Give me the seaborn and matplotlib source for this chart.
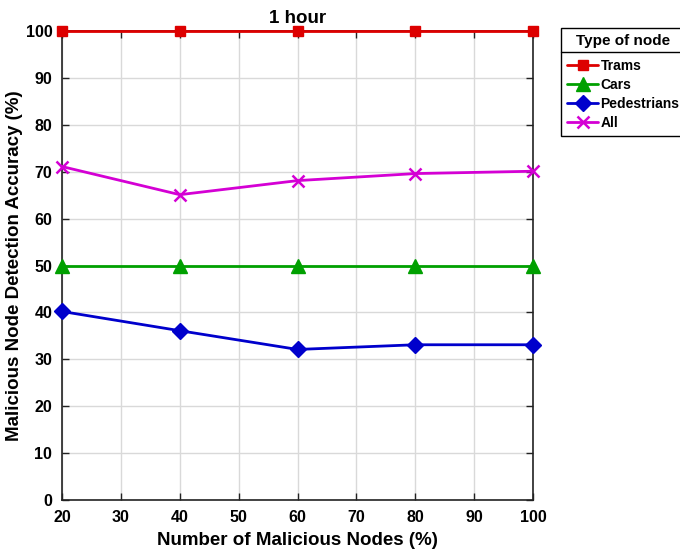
import matplotlib
matplotlib.use("Agg")
import matplotlib.pyplot as plt
import seaborn as sns
import pandas as pd

# Detection accuracy after 1 hour, by share of malicious nodes
malicious_pct = [20, 40, 60, 80, 100]
trams = [100, 100, 100, 100, 100]
cars = [50, 50, 50, 50, 50]
pedestrians = [40.2, 36.1, 32.1, 33.1, 33.1]
all_nodes = [71.1, 65.1, 68.1, 69.6, 70.1]

series_names = ["Trams", "Cars", "Pedestrians", "All"]
series_values = [trams, cars, pedestrians, all_nodes]
colors = ["#dd0000", "#00a000", "#0000cc", "#d400d4"]
markers = ["s", "^", "D", "x"]
marker_sizes = [7, 10, 8, 8]

df = pd.DataFrame({
    "x": malicious_pct * len(series_names),
    "y": sum(series_values, []),
    "node": sum([[n] * len(malicious_pct) for n in series_names], []),
})

sns.set_theme(style="white")
plt.rcParams["font.family"] = ["Liberation Sans", "DejaVu Sans"]
plt.rcParams["font.weight"] = "bold"

fig = plt.figure(figsize=(6.8, 5.55), dpi=100)
ax = fig.add_axes([62 / 680, 1 - 500 / 555, (533 - 62) / 680, (500 - 31) / 555])

for name, col, mk, ms in zip(series_names, colors, markers, marker_sizes):
    sub = df[df["node"] == name]
    sns.lineplot(data=sub, x="x", y="y", ax=ax, color=col, marker=mk,
                 markersize=ms, markeredgecolor=col,
                 markeredgewidth=1.8 if mk == "x" else 1,
                 linewidth=2, label=name, clip_on=False, zorder=3)

ax.set_xlim(20, 100)
ax.set_ylim(0, 100)
ax.set_xticks(range(20, 101, 10))
ax.set_yticks(range(0, 101, 10))
ax.grid(True, color="#d9d9d9", linewidth=1)
ax.tick_params(direction="in", length=5, width=1, color="#222222",
               labelcolor="black", labelsize=11.5,
               top=True, right=True, bottom=True, left=True, pad=7)
for lbl in ax.get_xticklabels() + ax.get_yticklabels():
    lbl.set_fontweight("bold")
for sp in ax.spines.values():
    sp.set_color("#222222")
    sp.set_linewidth(1.2)

ax.set_title("1 hour", fontsize=13.5, fontweight="bold", pad=6, color="black")
ax.set_xlabel("Number of Malicious Nodes (%)", fontsize=13.5, fontweight="bold",
              color="black")
ax.set_ylabel("Malicious Node Detection Accuracy (%)", fontsize=13.5,
              fontweight="bold", color="black")
ax.yaxis.set_label_coords(-0.082, 0.5)
ax.xaxis.set_label_coords(0.5, -0.068)

leg = ax.legend(loc="upper left", bbox_to_anchor=(561 / 680, 1 - 28 / 555),
                bbox_transform=fig.transFigure, title="Type of node",
                fontsize=10, title_fontproperties={"weight": "bold", "size": 11},
                frameon=True, fancybox=False, edgecolor="black", framealpha=1,
                borderaxespad=0, handlelength=2.2, labelspacing=0.35,
                borderpad=0.45, handletextpad=0.2)
leg.get_frame().set_linewidth(1)
leg._legend_box.sep = 8
for t in leg.get_texts():
    t.set_fontweight("bold")
    t.set_color("black")
leg.get_title().set_color("black")

# separator under the legend title
fig.canvas.draw()
bb = leg.get_window_extent()
tb = leg.get_title().get_window_extent()
ysep = tb.y0 - 4
fig.add_artist(plt.Line2D([bb.x0, bb.x1], [ysep, ysep], transform=None,
                          color="black", linewidth=1))

fig.savefig("out.png", dpi=100)
